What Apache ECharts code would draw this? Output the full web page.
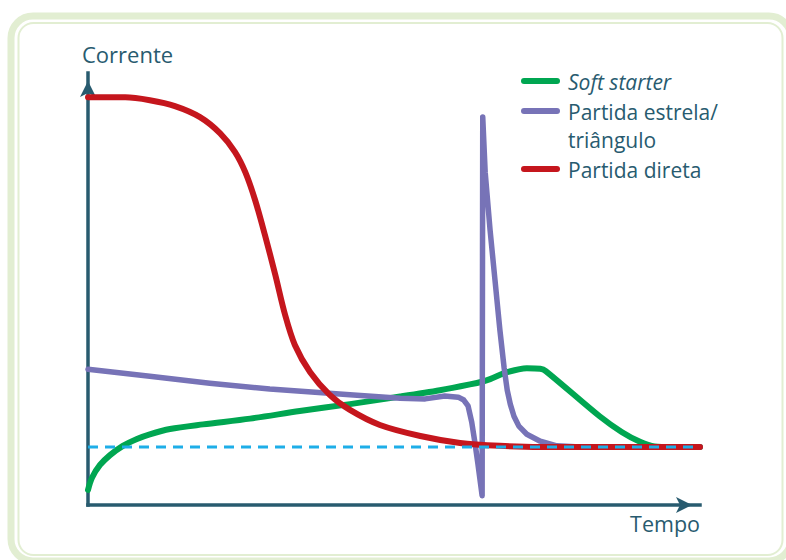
<!DOCTYPE html>
<html><head><meta charset="utf-8">
<script src="https://cdn.jsdelivr.net/npm/echarts@6/dist/echarts.min.js"></script>
<style>html,body{margin:0;padding:0;background:#fff}#c{width:786px;height:560px}</style>
</head><body><div id="c"></div>
<script>
// ---- data (time, current; current in multiples of nominal) ----
const seriesNames = ['Soft starter', 'Partida estrela/triângulo', 'Partida direta', 'Corrente nominal'];
const legendLabels = [['Soft starter'], ['Partida estrela/', 'triângulo'], ['Partida direta']];
const axisNames = ['Tempo', 'Corrente'];

const softStarter = [
  [0,0.26],[0.065,0.47],[0.196,0.69],[0.36,0.86],[0.57,1.02],[0.80,1.14],[1.01,1.22],
  [1.34,1.31],[1.88,1.39],[2.65,1.49],[3.46,1.62],[4.28,1.74],[5.10,1.87],[5.75,1.98],
  [6.24,2.08],[6.45,2.13],[6.57,2.17],[6.85,2.29],[7.17,2.36],[7.39,2.35],[7.48,2.31],
  [8.36,1.53],[8.72,1.26],[9.02,1.09],[9.26,1.01],[9.54,1.0],[10,1.0]
];
const estrelaTriangulo = [
  [0,2.34],[1.01,2.22],[1.99,2.10],[2.97,2.0],[4.28,1.90],[5.10,1.84],[5.51,1.83],[5.83,1.88],
  [6.05,1.86],[6.14,1.81],[6.21,1.71],[6.27,1.43],[6.32,1.09],[6.37,0.72],[6.44,0.16],
  [6.45,6.69],[6.49,5.74],[6.57,4.74],[6.65,3.88],[6.73,3.02],[6.80,2.36],[6.85,1.98],
  [6.90,1.74],[6.96,1.53],[7.04,1.36],[7.17,1.22],[7.39,1.10],[7.66,1.02],[8.04,1.0],[10,1.0]
];
const partidaDireta = [
  [0,7.03],[0.61,7.03],[1.01,6.98],[1.42,6.88],[1.83,6.69],[2.16,6.41],[2.40,6.09],[2.57,5.74],
  [2.73,5.26],[2.89,4.66],[3.06,3.97],[3.22,3.28],[3.38,2.76],[3.63,2.29],[3.95,1.90],
  [4.28,1.64],[4.77,1.38],[5.43,1.19],[6.08,1.07],[6.73,1.02],[7.39,1.0],[10,1.0]
];
const correnteNominal = [[0,1],[10,1]];

// ---- styles ----
const colors = ['#00a651', '#7773b7', '#c5161d', '#1eaee8'];
const ink = '#285b6f';
const font = '"Open Sans", "Noto Sans", sans-serif';

const chart = echarts.init(document.getElementById('c'), null, {renderer: 'svg'});

const legendRowsY = [81, 111, 169];
const legendGraphics = [];
legendLabels.forEach((lines, i) => {
  legendGraphics.push({
    type: 'line', silent: true, z: 100,
    shape: {x1: 524, y1: legendRowsY[i], x2: 557, y2: legendRowsY[i]},
    style: {stroke: colors[i], lineWidth: 6, lineCap: 'round'}
  });
  lines.forEach((t, j) => {
    legendGraphics.push({
      type: 'text', silent: true, z: 100,
      x: 568, y: legendRowsY[i] + j * 28 + 0.5,
      style: {text: t, fill: ink, fontSize: 21, fontFamily: font,
              fontStyle: i === 0 ? 'italic' : 'normal', verticalAlign: 'middle', align: 'left'}
    });
  });
});

const axisLine = {
  show: true, symbol: ['none', 'arrow'], symbolSize: [12, 16], symbolOffset: [0, -8],
  lineStyle: {color: ink, width: 3.5, cap: 'square'}
};

const option = {
  backgroundColor: '#ffffff',
  animation: false,
  grid: {left: 88, right: 86, top: 73, bottom: 55, containLabel: false, outerBoundsMode: 'none'},
  xAxis: {
    type: 'value', min: 0, max: 10,
    name: axisNames[0], nameLocation: 'end', nameGap: 0,
    nameTextStyle: {color: ink, fontSize: 21.5, fontFamily: font, align: 'right', verticalAlign: 'top', padding: [7, 0, 0, 0]},
    axisLine: axisLine, axisTick: {show: false}, axisLabel: {show: false}, splitLine: {show: false}
  },
  yAxis: {
    type: 'value', min: 0, max: 7.45,
    name: axisNames[1], nameLocation: 'end', nameGap: 8,
    nameTextStyle: {color: ink, fontSize: 22, fontFamily: font, align: 'left', verticalAlign: 'bottom', padding: [0, 0, 0, -6]},
    axisLine: axisLine, axisTick: {show: false}, axisLabel: {show: false}, splitLine: {show: false}
  },
  graphic: [
    {type: 'rect', silent: true, z: -10, shape: {x: 11, y: 16, width: 780, height: 545, r: 22},
     style: {fill: 'none', stroke: '#e2eed2', lineWidth: 7}},
    {type: 'rect', silent: true, z: -10, shape: {x: 18.5, y: 23, width: 764, height: 532, r: 15},
     style: {fill: 'none', stroke: '#e2eed2', lineWidth: 2}}
  ].concat(legendGraphics),
  series: [
    {name: seriesNames[0], type: 'line', data: softStarter, smooth: 0.3, showSymbol: false, z: 2,
     lineStyle: {color: colors[0], width: 6, cap: 'round', join: 'round'}},
    {name: seriesNames[1], type: 'line', data: estrelaTriangulo, smooth: false, showSymbol: false, z: 3,
     lineStyle: {color: colors[1], width: 5.5, cap: 'round', join: 'round'}},
    {name: seriesNames[2], type: 'line', data: partidaDireta, smooth: 0.3, showSymbol: false, z: 4,
     lineStyle: {color: colors[2], width: 6, cap: 'round', join: 'round'}},
    {name: seriesNames[3], type: 'line', data: correnteNominal, showSymbol: false, z: 5,
     lineStyle: {color: colors[3], width: 3, type: [10, 7]}}
  ]
};
chart.setOption(option);
</script></body></html>
